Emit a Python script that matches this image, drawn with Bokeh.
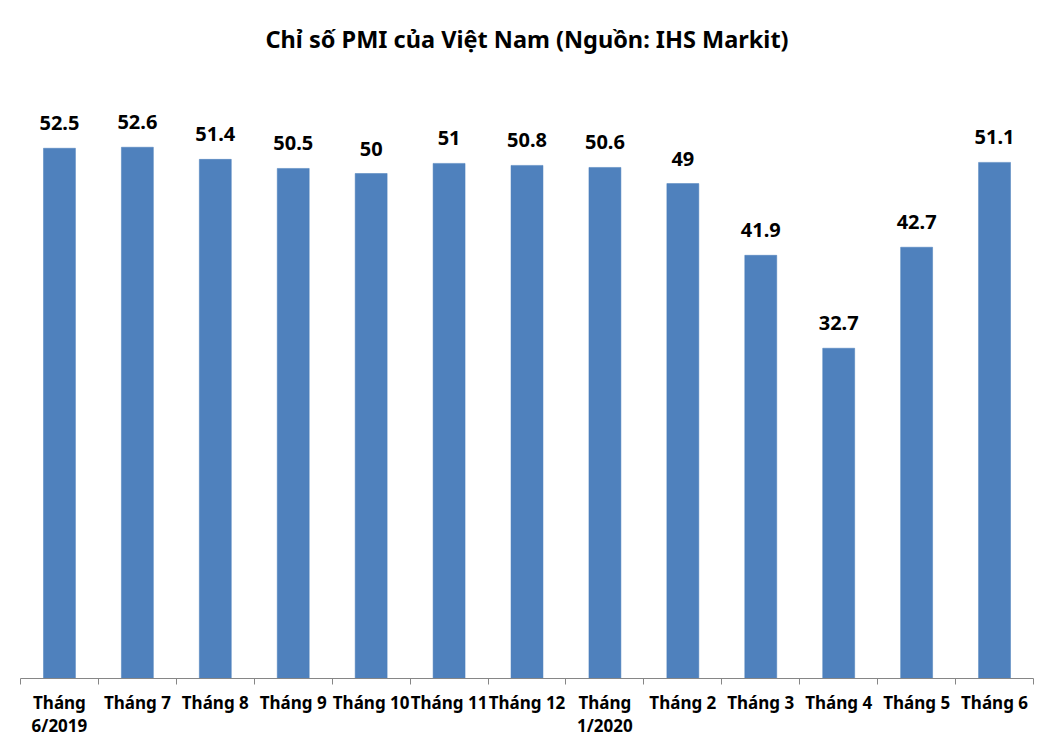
from bokeh.plotting import figure
from bokeh.models import Range1d, FixedTicker, ColumnDataSource, LabelSet
from bokeh.core.properties import value
from bokeh.embed import file_html
from bokeh.resources import INLINE

categories = ["Tháng\n6/2019", "Tháng 7", "Tháng 8", "Tháng 9", "Tháng 10", "Tháng 11",
              "Tháng 12", "Tháng\n1/2020", "Tháng 2", "Tháng 3", "Tháng 4", "Tháng 5", "Tháng 6"]
values = [52.5, 52.6, 51.4, 50.5, 50, 51, 50.8, 50.6, 49, 41.9, 32.7, 42.7, 51.1]
value_labels = ["52.5", "52.6", "51.4", "50.5", "50", "51", "50.8", "50.6", "49", "41.9", "32.7", "42.7", "51.1"]

n = len(categories)
xs = [i + 0.5 for i in range(n)]

src = ColumnDataSource(dict(x=xs, top=values, lab=value_labels))

FONT = "Noto Sans"

p = figure(width=1039, height=739, output_backend="svg", toolbar_location=None,
           x_range=Range1d(0, n), y_range=Range1d(0, 60),
           min_border_left=20, min_border_right=6, min_border_top=72, min_border_bottom=59,
           title="Chỉ số PMI của Việt Nam (Nguồn: IHS Markit)")
p.title.align = "center"
p.title.text_font = FONT
p.title.text_font_style = "bold"
p.title.text_font_size = "23.5px"
p.title.text_color = "#000000"
p.title.standoff = 35

p.vbar(x="x", top="top", width=0.41, bottom=0, source=src,
       fill_color="#4F81BD", line_color="#4A7EBB", line_width=0.5)

labels = LabelSet(x="x", y="top", text="lab", source=src, text_align="center",
                  text_baseline="bottom", y_offset=18, text_font=value(FONT),
                  text_font_style="bold", text_font_size="20px", text_color="#000000")
p.add_layout(labels)

p.yaxis.visible = False
p.xgrid.visible = False
p.ygrid.visible = False
p.outline_line_color = None

ax = p.xaxis[0]
ax.ticker = FixedTicker(ticks=xs, minor_ticks=list(range(n + 1)))
ax.major_label_overrides = {x: c for x, c in zip(xs, categories)}
ax.major_tick_line_color = None
ax.minor_tick_in = 0
ax.minor_tick_out = 6
ax.minor_tick_line_color = "#868686"
ax.axis_line_color = "#868686"
ax.major_label_standoff = 6
ax.major_label_text_font = FONT
ax.major_label_text_font_style = "bold"
ax.major_label_text_font_size = "17px"
ax.major_label_text_color = "#000000"
ax.major_label_text_line_height = 1.0

open("out.html", "w").write(file_html(p, INLINE))
